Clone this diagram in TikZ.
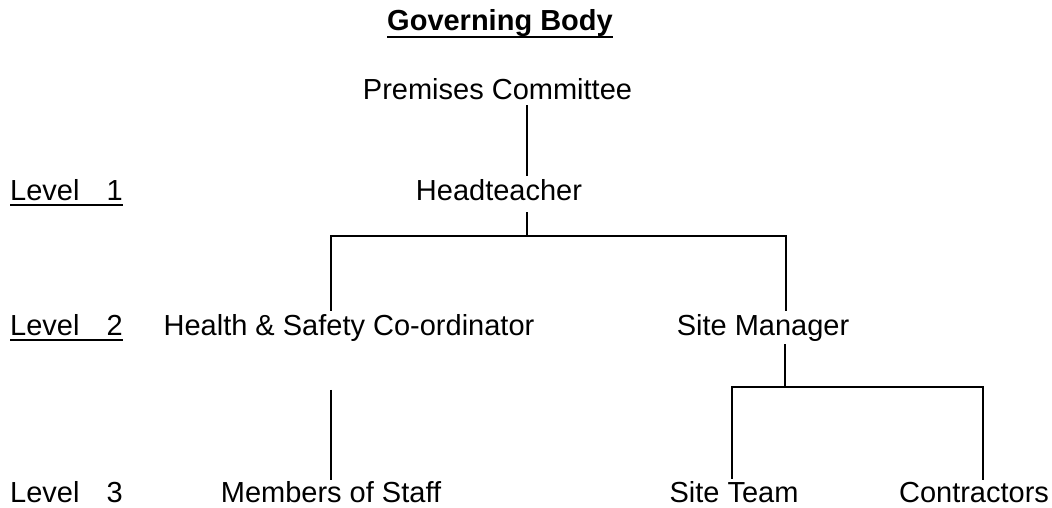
\documentclass[tikz,border=0pt]{standalone}
\usepackage{fontspec}
\setmainfont{Liberation Sans}
\usetikzlibrary{calc}

\begin{document}
\begin{tikzpicture}[x=1pt,y=1pt,
  lbl/.style={inner sep=0pt, anchor=base, font=\fontsize{29}{34}\selectfont},
  lvl/.style={lbl, anchor=base west},
  link/.style={line width=2pt},
  uline/.style={line width=2.8pt}]
\useasboundingbox (0,0) rectangle (1052,508);
% title and the three levels
\node[lbl, font=\fontsize{29}{34}\selectfont\bfseries] (title) at (500,477) {Governing Body};
\node[lvl] (lv1) at (10,307) {Level\hspace{27pt}1};
\node[lvl] (lv2) at (10,172) {Level\hspace{27pt}2};
\node[lvl] (lv3) at (10,5) {Level\hspace{27pt}3};
\draw[uline] ([yshift=-6pt]title.base west) -- ([yshift=-6pt]title.base east);
\draw[uline] ([yshift=-4pt]lv1.base west) -- ([yshift=-4pt]lv1.base east);
\draw[uline] ([yshift=-4pt]lv2.base west) -- ([yshift=-4pt]lv2.base east);
% posts
\node[lbl] (pc) at (497.5,408) {Premises Committee};
\node[lbl] (head) at (499,307) {Headteacher};
\node[lbl] (hs) at (349,172) {Health \& Safety Co-ordinator};
\node[lbl] (sm) at (763,172) {Site Manager};
\node[lbl] (ms) at (331,5) {Members of Staff};
\node[lbl] (st) at (734,5) {Site Team};
\node[lbl] (con) at (974,5) {Contractors};
% junctions
\coordinate (j1) at (527,272);
\coordinate (j1l) at (331,272);
\coordinate (j1r) at (786,272);
\coordinate (j2) at (785,121);
\coordinate (j2l) at (732,121);
\coordinate (j2r) at (983,121);
\coordinate (hsstem) at (331,118);
% connectors
\draw[link] ([yshift=-5pt]pc.south -| j1) -- ([yshift=4pt]head.north -| j1);
\draw[link] ([yshift=-11pt]head.south -| j1) -- (j1);
\draw[link] ($(j1l |- hs.north)+(0,4)$) -- (j1l) -- (j1r) -- ($(j1r |- sm.north)+(0,4)$);
\draw[link] ([yshift=-2pt]sm.south -| j2) -- (j2);
\draw[link] ($(j2l |- st.north)+(0,3)$) -- (j2l) -- (j2r) -- ($(j2r |- con.north)+(0,3)$);
\draw[link] (hsstem) -- ([yshift=2pt]ms.north);
\end{tikzpicture}
\end{document}
